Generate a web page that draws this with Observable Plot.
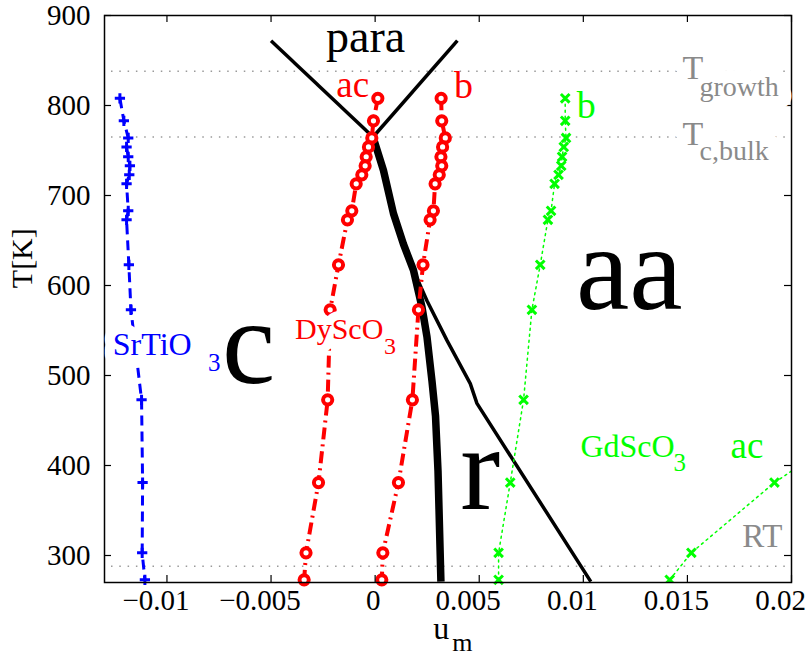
<!DOCTYPE html>
<html><head><meta charset="utf-8">
<script src="https://cdn.jsdelivr.net/npm/d3@7"></script>
<script src="https://cdn.jsdelivr.net/npm/@observablehq/plot@0.6"></script>
<style>body{margin:0;background:#fff}#chart{width:810px;height:657px}</style>
</head><body><div id="chart"></div>
<script>
// measurement temperatures (K)
const temps = [808, 783, 764, 754, 743, 733, 723, 713, 683, 673, 623, 573, 473, 381, 303, 273];
// SrTiO3 substrate
const srtioX = [-0.01226, -0.01207, -0.01186, -0.01194, -0.01186, -0.01178, -0.01181, -0.01194, -0.01186, -0.01194, -0.01183, -0.01173, -0.01122, -0.01117, -0.01119, -0.01106];
// DyScO3 substrate, ac and b directions
const dyAcX = [0.00013, -0.00008, -0.00016, -0.00032, -0.00043, -0.00048, -0.00064, -0.00091, -0.00112, -0.00133, -0.00176, -0.00216, -0.00228, -0.00272, -0.00332, -0.00341];
const dyBX = [0.00317, 0.00320, 0.00337, 0.00324, 0.00316, 0.00320, 0.00308, 0.00288, 0.00280, 0.00264, 0.00230, 0.00208, 0.00179, 0.00112, 0.00037, 0.00032];
// GdScO3 substrate, b and ac directions
const gdBX = [0.00913, 0.00913, 0.00917, 0.00906, 0.00898, 0.00894, 0.00881, 0.00862, 0.00845, 0.00830, 0.00793, 0.00753, 0.00713, 0.00649, 0.00593, 0.00593];
const gdAcT = [273, 303, 381, 473];
const gdAcX = [0.01415, 0.01519, 0.01918, 0.0251];
// phase boundaries
const paraLeftX = [-0.0050, -0.0001];
const paraLeftT = [872, 765];
const paraRightX = [0.00395, -0.0001];
const paraRightT = [872, 765];
const thinX = [-0.0001, 0.0004, 0.00088, 0.00136, 0.00184, 0.00249, 0.00345, 0.00457, 0.00489, 0.01036];
const thinT = [765, 728, 680, 646, 617, 583, 539, 491, 469, 271];
const thickX = [-0.0001, 0.0004, 0.00088, 0.00136, 0.00184, 0.00225, 0.00249, 0.00273, 0.0029, 0.00302, 0.00316];
const thickT = [765, 728, 680, 646, 617, 576, 543, 494, 455, 394, 271];
// reference temperatures: T_growth, T_c,bulk, RT
const refT = [838, 765, 288];
// ticks
const xTicks = [-0.01, -0.005, 0, 0.005, 0.01, 0.015, 0.02];
const yTicks = [300, 400, 500, 600, 700, 800, 900];

const pts = (xs, ts) => xs.map((x, i) => ({u: x, T: ts[i]}));
const srtio = pts(srtioX, temps);
const dyAc = pts(dyAcX, temps);
const dyB = pts(dyBX, temps);
const gdB = pts(gdBX, temps);
const gdAc = pts(gdAcX, gdAcT);

const W = 810, H = 657, mL = 104, mR = 19, mT = 15, mB = 75;
const plotW = W - mL - mR, plotH = H - mT - mB;
const FONT = "Liberation Serif";
const RED = "#ff0000", GREEN = "#00ff00", BLUE = "#0000ff", GREY = "#8a8a8a";
const fmt = d => d === 0 ? "0" : (d < 0 ? "\u2212" : "") + Math.abs(d);

const lbl = (s, x, y, o) => Plot.text([s], {x, y, text: d => d, lineAnchor: "bottom", fontFamily: FONT, ...o});
// white background boxes (halos) drawn before the label texts
const halo = (s, x, y, fs, sw) => lbl(s, x, y, {fontSize: fs, textAnchor: "start", fill: "white", stroke: "white", strokeWidth: sw});

const chart = Plot.plot({
  width: W, height: H,
  marginLeft: mL, marginRight: mR, marginTop: mT, marginBottom: mB,
  style: {fontFamily: FONT, background: "white", color: "black"},
  x: {domain: [-0.013, 0.02], label: null},
  y: {domain: [270, 900], label: null},
  marks: [
    Plot.ruleY(refT, {y: d => d, stroke: "#9a9a9a", strokeWidth: 1.5, strokeDasharray: "1.5,6.8", insetLeft: 7, insetRight: 5}),
    // phase boundaries
    Plot.line(pts(paraLeftX, paraLeftT), {x: "u", y: "T", stroke: "black", strokeWidth: 3.5, strokeLinecap: "butt"}),
    Plot.line(pts(paraRightX, paraRightT), {x: "u", y: "T", stroke: "black", strokeWidth: 3.5, strokeLinecap: "butt"}),
    Plot.line(pts(thinX, thinT), {x: "u", y: "T", stroke: "black", strokeWidth: 3.5, strokeLinecap: "butt", clip: true}),
    Plot.line(pts(thickX, thickT), {x: "u", y: "T", stroke: "black", strokeWidth: 7.5, strokeLinecap: "butt", clip: true}),
    // SrTiO3
    Plot.line(srtio, {x: "u", y: "T", stroke: BLUE, strokeWidth: 3, strokeDasharray: "10,6", strokeLinecap: "butt"}),
    Plot.dot(srtio, {x: "u", y: "T", symbol: "plus", r: 3.4, stroke: BLUE, strokeWidth: 3}),
    // DyScO3
    Plot.line(dyAc, {x: "u", y: "T", stroke: RED, strokeWidth: 4, strokeDasharray: "12,5,2,5", strokeLinecap: "butt"}),
    Plot.line(dyB, {x: "u", y: "T", stroke: RED, strokeWidth: 4, strokeDasharray: "12,5,2,5", strokeLinecap: "butt"}),
    Plot.dot(dyAc, {x: "u", y: "T", r: 4.6, stroke: RED, strokeWidth: 4, fill: "white"}),
    Plot.dot(dyB, {x: "u", y: "T", r: 4.6, stroke: RED, strokeWidth: 4, fill: "white"}),
    // GdScO3
    Plot.line(gdB, {x: "u", y: "T", stroke: GREEN, strokeWidth: 1.5, strokeDasharray: "2,4"}),
    Plot.line(gdAc, {x: "u", y: "T", stroke: GREEN, strokeWidth: 1.5, strokeDasharray: "2,4", clip: true}),
    Plot.dot(gdB, {x: "u", y: "T", symbol: "times", r: 4, stroke: GREEN, strokeWidth: 3}),
    Plot.dot(gdAc, {x: "u", y: "T", symbol: "times", r: 4, stroke: GREEN, strokeWidth: 3, clip: true}),
    // frame and inward ticks
    Plot.frame({stroke: "black", strokeWidth: 1.5}),
    Plot.tickX(xTicks, {x: d => d, insetTop: plotH - 7, stroke: "black", strokeWidth: 1.2}),
    Plot.tickX(xTicks, {x: d => d, insetBottom: plotH - 7, stroke: "black", strokeWidth: 1.2}),
    Plot.tickY(yTicks, {y: d => d, insetRight: plotW - 7, stroke: "black", strokeWidth: 1.2}),
    Plot.tickY(yTicks, {y: d => d, insetLeft: plotW - 7, stroke: "black", strokeWidth: 1.2}),
    // tick labels
    Plot.axisX(xTicks.filter(d => d !== 0), {tickSize: 0, tickPadding: 7, tickFormat: fmt, fontSize: 29, dx: -11, label: null}),
    Plot.axisX([0], {tickSize: 0, tickPadding: 7, tickFormat: fmt, fontSize: 29, dx: -2, label: null}),
    Plot.axisY(yTicks, {tickSize: 0, tickPadding: 14, fontSize: 29, label: null}),
    // axis titles
    Plot.text(["T[K]"], {frameAnchor: "left", y: 597, dx: -82, rotate: -90, text: d => d, fontSize: 30, fontFamily: FONT}),
    Plot.text(["u"], {frameAnchor: "bottom", x: 0.00317, dy: 56, lineAnchor: "bottom", text: d => d, fontSize: 32, fontFamily: FONT}),
    Plot.text(["m"], {frameAnchor: "bottom", x: 0.0037, dy: 68, lineAnchor: "bottom", textAnchor: "start", text: d => d, fontSize: 26, fontFamily: FONT}),
    // label background boxes
    halo("SrTiO", -0.0126, 523, 32, 20),
    halo("3", -0.00803, 505, 25, 20),
    halo("DyScO", -0.00385, 541, 30, 18),
    halo("3", 0.00043, 524, 24, 18),
    halo("T", 0.01476, 830, 34, 22),
    halo("growth", 0.01558, 811, 28, 26),
    halo("T", 0.01476, 756, 34, 22),
    halo("c,bulk", 0.01558, 740, 28, 26),
    // phase labels
    lbl("para", -0.00046, 859, {fontSize: 46, fill: "black"}),
    lbl("aa", 0.01221, 574, {fontSize: 120, fill: "black"}),
    lbl("c", -0.00608, 492, {fontSize: 120, fill: "black"}),
    lbl("r", 0.00505, 352, {fontSize: 120, fill: "black"}),
    // direction labels
    lbl("ac", -0.00108, 809, {fontSize: 37, fill: RED}),
    lbl("b", 0.00425, 808, {fontSize: 38, fill: RED}),
    lbl("b", 0.01014, 786, {fontSize: 38, fill: GREEN}),
    lbl("ac", 0.01786, 408, {fontSize: 37, fill: GREEN}),
    // substrate labels
    lbl("SrTiO", -0.0126, 523, {fontSize: 32, fill: BLUE, textAnchor: "start"}),
    lbl("3", -0.00803, 505, {fontSize: 25, fill: BLUE, textAnchor: "start"}),
    lbl("DyScO", -0.00385, 541, {fontSize: 30, fill: RED, textAnchor: "start"}),
    lbl("3", 0.00043, 524, {fontSize: 24, fill: RED, textAnchor: "start"}),
    lbl("GdScO", 0.00986, 409, {fontSize: 32, fill: GREEN, textAnchor: "start"}),
    lbl("3", 0.01433, 394, {fontSize: 25, fill: GREEN, textAnchor: "start"}),
    // reference temperature labels
    lbl("T", 0.01476, 830, {fontSize: 34, fill: GREY, textAnchor: "start"}),
    lbl("growth", 0.01558, 811, {fontSize: 28, fill: GREY, textAnchor: "start"}),
    lbl("T", 0.01476, 756, {fontSize: 34, fill: GREY, textAnchor: "start"}),
    lbl("c,bulk", 0.01558, 740, {fontSize: 28, fill: GREY, textAnchor: "start"}),
    lbl("RT", 0.0186, 309, {fontSize: 33, fill: GREY})
  ]
});
document.getElementById("chart").appendChild(chart);
</script>
</body></html>
